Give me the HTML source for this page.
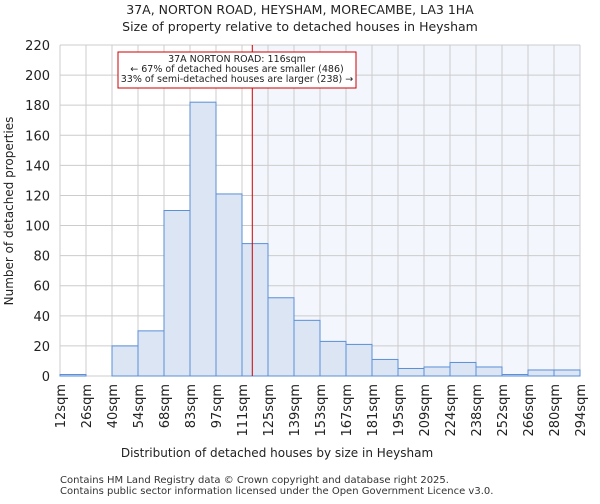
<!DOCTYPE html>
<html><head><meta charset="utf-8"><style>
body{margin:0;background:#fff;font-family:"DejaVu Sans","Liberation Sans",sans-serif}
</style></head><body>
<svg id="c" width="600" height="500" xmlns="http://www.w3.org/2000/svg" font-family="DejaVu Sans, Liberation Sans, sans-serif">
<text x="300" y="14" text-anchor="middle" font-size="12.5" fill="#222">37A, NORTON ROAD, HEYSHAM, MORECAMBE, LA3 1HA</text>
<text x="300" y="31" text-anchor="middle" font-size="12.5" fill="#222">Size of property relative to detached houses in Heysham</text>
<g id="plot"></g>
<text x="277" y="457" text-anchor="middle" font-size="12" fill="#222">Distribution of detached houses by size in Heysham</text>
<text transform="translate(13,211) rotate(-90)" text-anchor="middle" font-size="12" fill="#222">Number of detached properties</text>
<text x="60" y="483" font-size="10" fill="#333">Contains HM Land Registry data © Crown copyright and database right 2025.</text>
<text x="60" y="494" font-size="10" fill="#333">Contains public sector information licensed under the Open Government Licence v3.0.</text>
</svg>
<script>
const categories=["12sqm","26sqm","40sqm","54sqm","68sqm","83sqm","97sqm","111sqm","125sqm","139sqm","153sqm","167sqm","181sqm","195sqm","209sqm","224sqm","238sqm","252sqm","266sqm","280sqm","294sqm"];
const binEdges=[12,26,40,54,68,83,97,111,125,139,153,167,181,195,209,224,238,252,266,280,294];
const counts=[1,0,20,30,110,182,121,88,52,37,23,21,11,5,6,9,6,1,4,4];
const yTicks=[0,20,40,60,80,100,120,140,160,180,200,220];
const propertySize=116;
const annotationLines=["37A NORTON ROAD: 116sqm","← 67% of detached houses are smaller (486)","33% of semi-detached houses are larger (238) →"];

const NS="http://www.w3.org/2000/svg";
const g=document.getElementById('plot');
const X0=60,X1=580,Y0=376,Y1=45,YMAX=220;
const nb=counts.length;
const xi=i=>X0+(X1-X0)*i/nb;
const xv=v=>{for(let i=0;i<binEdges.length-1;i++){if(v<=binEdges[i+1])return xi(i)+(v-binEdges[i])/(binEdges[i+1]-binEdges[i])*(xi(i+1)-xi(i));}return X1;};
const y=v=>Y0-(Y0-Y1)*v/YMAX;
function el(t,a,p){const e=document.createElementNS(NS,t);for(const k in a)e.setAttribute(k,a[k]);(p||g).appendChild(e);return e;}
const lx=xv(propertySize)+1;
let r=el('rect',{x:lx,y:Y1,width:X1-lx,height:Y0-Y1,fill:'#f3f6fd'});


yTicks.forEach(t=>{
 let l=el('line',{x1:X0,x2:X1,y1:y(t),y2:y(t),stroke:'#ccc','stroke-width':1});
 
 
 let tx=el('text',{x:X0-10,y:y(t)+5,'text-anchor':'end','font-size':13,fill:'#222'});
 tx.textContent=t;
 
 
});
for(let i=0;i<=nb;i++){
 let l=el('line',{x1:xi(i),x2:xi(i),y1:Y1,y2:Y0,stroke:'#ccc','stroke-width':1});
 
 
 let tx=el('text',{transform:`translate(${xi(i)+5},${Y0+8}) rotate(-90)`,'text-anchor':'end','font-size':13,fill:'#222'});
 tx.textContent=categories[i];
 
 
}
counts.forEach((c,i)=>{
 let b=el('rect',{x:xi(i),y:y(c),width:xi(i+1)-xi(i),height:Y0-y(c),fill:'#dbe5f4',stroke:'#5b8fd6','stroke-width':1});
 
 
});
let rl=el('line',{x1:lx,x2:lx,y1:Y1,y2:Y0,stroke:'#cc0000','stroke-width':1});


let ab=el('rect',{x:118,y:52,width:238,height:36,fill:'#fff',stroke:'#cc0000','stroke-width':1});


annotationLines.forEach((s,i)=>{
 let t=el('text',{x:237,y:62+i*10,'text-anchor':'middle','font-size':9.5,fill:'#222'});
 t.textContent=s;
 
 
});
</script>
</body></html>
